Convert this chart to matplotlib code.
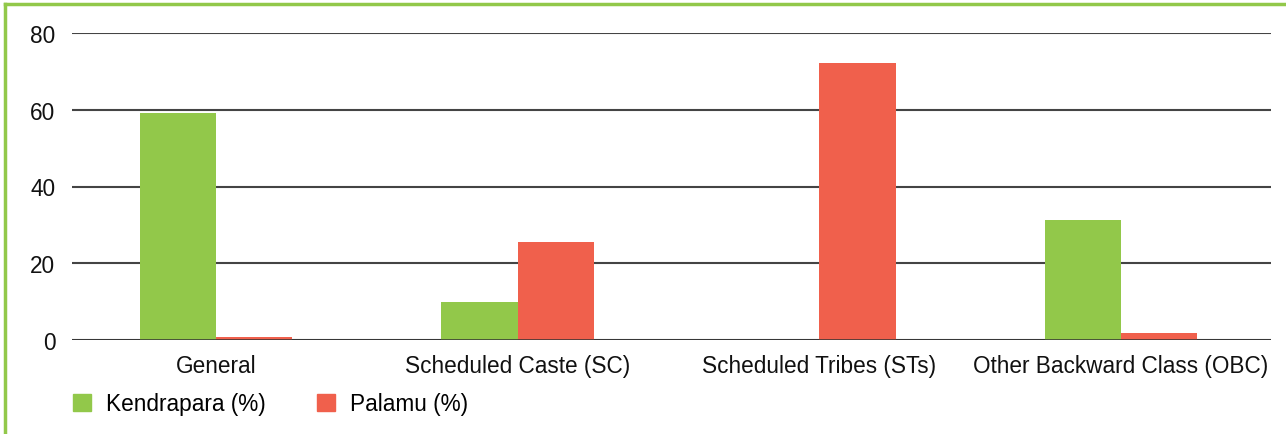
import numpy as np
import matplotlib.pyplot as plt
from matplotlib.lines import Line2D
from matplotlib.patches import Patch

categories = ["General", "Scheduled Caste (SC)", "Scheduled Tribes (STs)", "Other Backward Class (OBC)"]
kendrapara = [59.2, 9.9, 0.0, 31.3]
palamu = [0.9, 25.5, 72.2, 1.8]
yticks = [0, 20, 40, 60, 80]

green = "#92C84A"
red = "#F0604C"

plt.rcParams["font.family"] = ["Liberation Sans", "DejaVu Sans"]

fig = plt.figure(figsize=(12.86, 4.35), dpi=100)
ax = fig.add_axes([72 / 1286, 1 - 341 / 435, (1271 - 72) / 1286, (341 - 34) / 435])

x = np.arange(len(categories))
w = 0.253
ax.bar(x - w / 2, kendrapara, w, color=green, zorder=3)
ax.bar(x + w / 2, palamu, w, color=red, zorder=3)

ax.set_xlim(-0.477, 3.497)
ax.set_ylim(0, 80)
ax.set_yticks(yticks)
ax.set_xticks(x)
ax.set_xticklabels(categories)
ax.tick_params(axis="both", length=0, labelsize=16.3, colors="#111111")
ax.tick_params(axis="y", pad=12)
ax.tick_params(axis="x", pad=10)
ax.yaxis.grid(True, color="#444444", linewidth=1.5, zorder=1)
for s in ax.spines.values():
    s.set_visible(False)
ax.axhline(0, color="#333333", linewidth=1.8, zorder=4)

handles = [Patch(color=green, label="Kendrapara (%)"), Patch(color=red, label="Palamu (%)")]
fig.legend(handles=handles, loc="center left", bbox_to_anchor=(53 / 1286, 1 - 405 / 435),
           ncol=2, frameon=False, fontsize=16.3, handlelength=0.8, handleheight=0.8,
           handletextpad=0.65, columnspacing=2.25)

# green frame on top and left
fig.add_artist(Line2D([5 / 1286, 5 / 1286], [0, 1 - 5 / 435], color=green, linewidth=2.5))
fig.add_artist(Line2D([5 / 1286, 1], [1 - 5 / 435, 1 - 5 / 435], color=green, linewidth=2.5))

fig.savefig("out.png", dpi=100)
